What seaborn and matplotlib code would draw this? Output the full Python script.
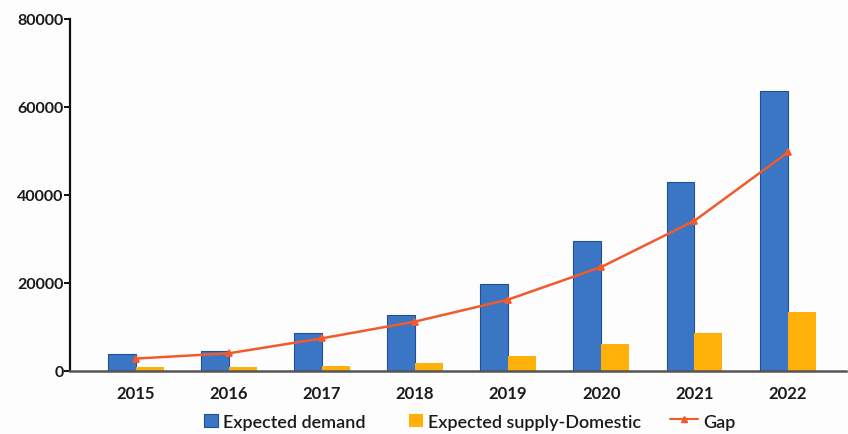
import matplotlib
matplotlib.use("Agg")
import matplotlib.pyplot as plt
import seaborn as sns
import pandas as pd
from matplotlib.patches import Patch, Rectangle
from matplotlib.lines import Line2D
from matplotlib.legend_handler import HandlerPatch, HandlerLine2D

years = ["2015", "2016", "2017", "2018", "2019", "2020", "2021", "2022"]
expected_demand = [3900, 4600, 8600, 12600, 19800, 29400, 43000, 63600]
expected_supply = [800, 900, 1100, 1750, 3500, 6100, 8650, 13300]
gap = [2800, 4000, 7400, 11200, 16200, 23600, 34100, 49600]

series_names = ["Expected demand", "Expected supply-Domestic", "Gap"]
yticks = [0, 20000, 40000, 60000, 80000]

sns.set_theme(style="white")
plt.rcParams["font.family"] = ["Lato", "DejaVu Sans"]

blue = "#3b76c4"
blue_edge = "#1f4f9a"
orange = "#ffb10a"
red = "#f15a2b"
text_color = "#1a1a1a"

df = pd.DataFrame({
    "year": years * 2,
    "value": expected_demand + expected_supply,
    "series": [series_names[0]] * len(years) + [series_names[1]] * len(years),
})

fig = plt.figure(figsize=(8.48, 4.35), dpi=100, facecolor="#fdfdfd")
ax = fig.add_axes([0.083, 0.145, 0.915, 0.81])
ax.set_facecolor("#fdfdfd")

sns.barplot(data=df, x="year", y="value", hue="series",
            palette=[blue, orange], width=0.6, gap=0,
            saturation=1, legend=False, ax=ax)
for i, bar in enumerate(ax.patches):
    if i < len(years):
        bar.set_edgecolor(blue_edge)
        bar.set_linewidth(0.8)
    else:
        bar.set_edgecolor("none")

sns.pointplot(x=years, y=gap, color=red, markers="^", linestyles="-",
              markersize=4, linewidth=1.8, ax=ax)

ax.set_xlim(-0.7, 7.63)
ax.set_ylim(0, 80000)
ax.set_yticks(yticks)
ax.set_yticklabels([str(v) for v in yticks])
ax.set_xlabel("")
ax.set_ylabel("")

for side in ["top", "right"]:
    ax.spines[side].set_visible(False)
ax.spines["left"].set_color("#111111")
ax.spines["left"].set_linewidth(1.6)
ax.spines["bottom"].set_color("#555555")
ax.spines["bottom"].set_linewidth(1.8)

ax.tick_params(axis="y", which="major", left=True, length=4, width=1.4,
               color="#111111", labelsize=11.5, labelcolor=text_color, pad=1)
ax.tick_params(axis="x", which="major", bottom=False, labelsize=12,
               labelcolor=text_color, pad=4)
for lbl in ax.get_xticklabels() + ax.get_yticklabels():
    lbl.set_fontweight("bold")


def square_patch(legend, orig_handle, xdescent, ydescent, width, height, fontsize):
    # square swatch pushed against the label
    side = height * 0.85
    return Rectangle((-xdescent + width - side, -ydescent + (height - side) / 2),
                     side, side)


handles = [
    Patch(facecolor=blue, edgecolor=blue_edge, linewidth=0.8),
    Patch(facecolor=orange, edgecolor="none"),
    Line2D([0], [0], color=red, linewidth=1.5, marker="^", markersize=5),
]
leg = fig.legend(handles, series_names, loc="center",
                 bbox_to_anchor=(0.542, 0.03), ncol=3, frameon=False,
                 fontsize=13, handlelength=1.9, handleheight=1.0,
                 handletextpad=0.25, columnspacing=1.3,
                 labelcolor=text_color,
                 handler_map={Patch: HandlerPatch(patch_func=square_patch),
                              Line2D: HandlerLine2D(numpoints=1, xpad=0.3)})
for t in leg.get_texts():
    t.set_fontweight("semibold")

fig.savefig("out.png", dpi=100, facecolor=fig.get_facecolor())
